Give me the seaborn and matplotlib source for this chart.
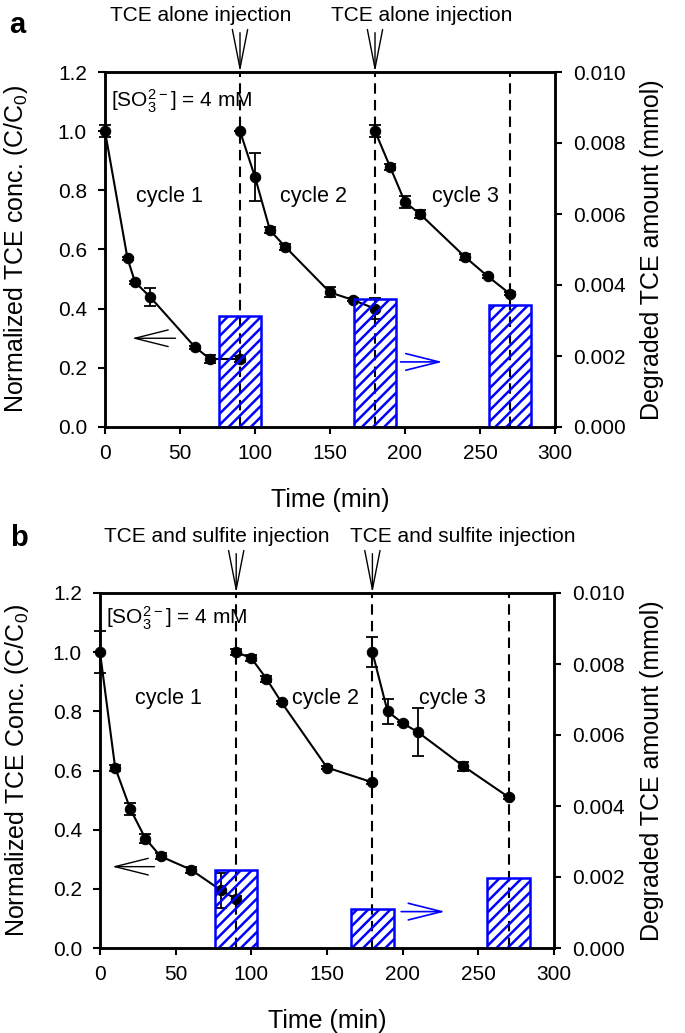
import numpy as np
import pandas as pd
import matplotlib
matplotlib.use('Agg')
import matplotlib.pyplot as plt
from matplotlib.ticker import FormatStrFormatter
import seaborn as sns

# ---- panel a : TCE alone injection ----
a_t = [[0, 15, 20, 30, 60, 70, 90],
       [90, 100, 110, 120, 150, 165, 180],
       [180, 190, 200, 210, 240, 255, 270]]
a_c = [[1.0, 0.57, 0.49, 0.44, 0.27, 0.23, 0.23],
       [1.0, 0.845, 0.665, 0.61, 0.455, 0.43, 0.40],
       [1.0, 0.88, 0.76, 0.72, 0.575, 0.51, 0.45]]
a_err = [[0.02, 0.005, 0.005, 0.03, 0.005, 0.015, 0.01],
         [0.0, 0.08, 0.01, 0.01, 0.017, 0.005, 0.035],
         [0.02, 0.01, 0.02, 0.015, 0.01, 0.005, 0.005]]
a_bar_t = [90, 180, 270]
a_bar_v = [0.00313, 0.0036, 0.00345]

# ---- panel b : TCE and sulfite injection ----
b_t = [[0, 10, 20, 30, 40, 60, 80, 90],
       [90, 100, 110, 120, 150, 180],
       [180, 190, 200, 210, 240, 270]]
b_c = [[1.0, 0.61, 0.47, 0.37, 0.31, 0.265, 0.195, 0.165],
       [1.0, 0.98, 0.91, 0.83, 0.61, 0.56],
       [1.0, 0.80, 0.76, 0.73, 0.615, 0.51]]
b_err = [[0.07, 0.01, 0.02, 0.015, 0.01, 0.01, 0.06, 0.01],
         [0.01, 0.01, 0.01, 0.005, 0.005, 0.005],
         [0.05, 0.042, 0.005, 0.08, 0.015, 0.005]]
b_bar_t = [90, 180, 270]
b_bar_v = [0.0022, 0.0011, 0.00197]

sns.set_style('ticks')
plt.rcParams['font.family'] = ['Liberation Sans', 'DejaVu Sans']
plt.rcParams['mathtext.default'] = 'regular'
plt.rcParams['hatch.linewidth'] = 1.8
for k in ['text.color', 'axes.labelcolor', 'xtick.color', 'ytick.color', 'axes.edgecolor']:
    plt.rcParams[k] = 'black'

fig = plt.figure(figsize=(6.85, 10.33), dpi=100)
ax_a = fig.add_axes([105 / 685, 1 - 427 / 1033, 450 / 685, 355 / 1033])
ax_b = fig.add_axes([100 / 685, 1 - 948 / 1033, 454 / 685, 355 / 1033])


def draw_panel(ax, ts, cs, errs, bar_t, bar_v, ylab, ylab_x, inj_text, inj_x, cyc_pos, so3_y, larr, rarr):
    for t, c, e in zip(ts, cs, errs):
        sns.lineplot(x=t, y=c, ax=ax, color='k', marker='o', markersize=7.5,
                     markeredgecolor='k', linewidth=1.5, sort=False, clip_on=False)
        ax.errorbar(t, c, yerr=e, fmt='none', ecolor='k', elinewidth=1.3,
                    capsize=4, capthick=1.3, clip_on=False)
    for x in [90, 180, 270]:
        ax.plot([x, x], [0, 1.2], color='k', lw=1.5, ls=(0, (5, 3)))

    ax.set_xlim(0, 300)
    ax.set_ylim(0, 1.2)
    ax.set_xticks(range(0, 301, 50))
    ax.set_yticks(np.arange(0, 1.21, 0.2))
    ax.yaxis.set_major_formatter(FormatStrFormatter('%.1f'))
    ax.tick_params(direction='out', length=5, width=1.5, labelsize=15)
    ax.tick_params(axis='x', pad=7)
    ax.tick_params(axis='y', pad=8)
    ax.set_xlabel('Time (min)', fontsize=18)
    ax.xaxis.set_label_coords(0.5, -0.172)
    ax.xaxis.label.set_va('top')
    ax.set_ylabel(ylab, fontsize=18)
    ax.yaxis.set_label_coords(ylab_x, 0.5)

    ax2 = ax.twinx()
    ax2.bar(bar_t, bar_v, width=28, facecolor='none', edgecolor='#0000ff',
            hatch='///', linewidth=1.8)
    ax2.set_ylim(0, 0.010)
    ax2.set_yticks(np.arange(0, 0.0101, 0.002))
    ax2.yaxis.set_major_formatter(FormatStrFormatter('%.3f'))
    ax2.tick_params(direction='out', length=5, width=1.5, labelsize=15, pad=8)
    ax2.set_ylabel('Degraded TCE amount (mmol)', fontsize=18)
    ax2.yaxis.set_label_coords(1.19, 0.5)
    ax2.yaxis.label.set_va('top')

    for sp in list(ax.spines.values()) + list(ax2.spines.values()):
        sp.set_linewidth(1.8)

    # injection arrows above the plot
    for x, tx in zip([90, 180], inj_x):
        ax.text(tx, 1.39, inj_text, ha='center', va='center', fontsize=15, clip_on=False)
        ax.annotate('', xy=(x, 1.2), xytext=(x, 1.333), annotation_clip=False,
                    arrowprops=dict(arrowstyle='->,head_length=2.8,head_width=0.55',
                                    color='k', lw=1.0, shrinkA=0, shrinkB=0,
                                    mutation_scale=10))

    for i, (x, y) in enumerate(cyc_pos):
        ax.text(x, y, 'cycle %d' % (i + 1), ha='center', va='center', fontsize=15.5)
    ax.text(4, so3_y, r'[SO$_3^{2-}$] = 4 mM', ha='left', va='center', fontsize=15)

    ax.annotate('', xy=(larr[0], larr[2]), xytext=(larr[1], larr[2]),
                arrowprops=dict(arrowstyle='->,head_length=2.4,head_width=0.6',
                                color='k', lw=1.0, shrinkA=0, shrinkB=0, mutation_scale=10))
    ax.annotate('', xy=(rarr[1], rarr[2]), xytext=(rarr[0], rarr[2]),
                arrowprops=dict(arrowstyle='->,head_length=2.4,head_width=0.6',
                                color='#0000ff', lw=1.2, shrinkA=0, shrinkB=0, mutation_scale=10))


draw_panel(ax_a, a_t, a_c, a_err, a_bar_t, a_bar_v, 'Normalized TCE conc. (C/C$_0$)', -0.167,
           'TCE alone injection', [64, 211],
           [(43, 0.78), (139, 0.78), (240, 0.78)], 1.10,
           (18, 47, 0.30), (197, 225, 0.22))
draw_panel(ax_b, b_t, b_c, b_err, b_bar_t, b_bar_v, 'Normalized TCE Conc. (C/C$_0$)', -0.152,
           'TCE and sulfite injection', [77, 240],
           [(45, 0.845), (149, 0.845), (233, 0.845)], 1.115,
           (8, 36, 0.275), (199, 228, 0.123))

fig.text(17 / 685, 1 - 25 / 1033, 'a', fontsize=21, fontweight='bold', ha='center', va='center')
fig.text(19 / 685, 1 - 538 / 1033, 'b', fontsize=21, fontweight='bold', ha='center', va='center')

plt.savefig('out.png', dpi=100)
